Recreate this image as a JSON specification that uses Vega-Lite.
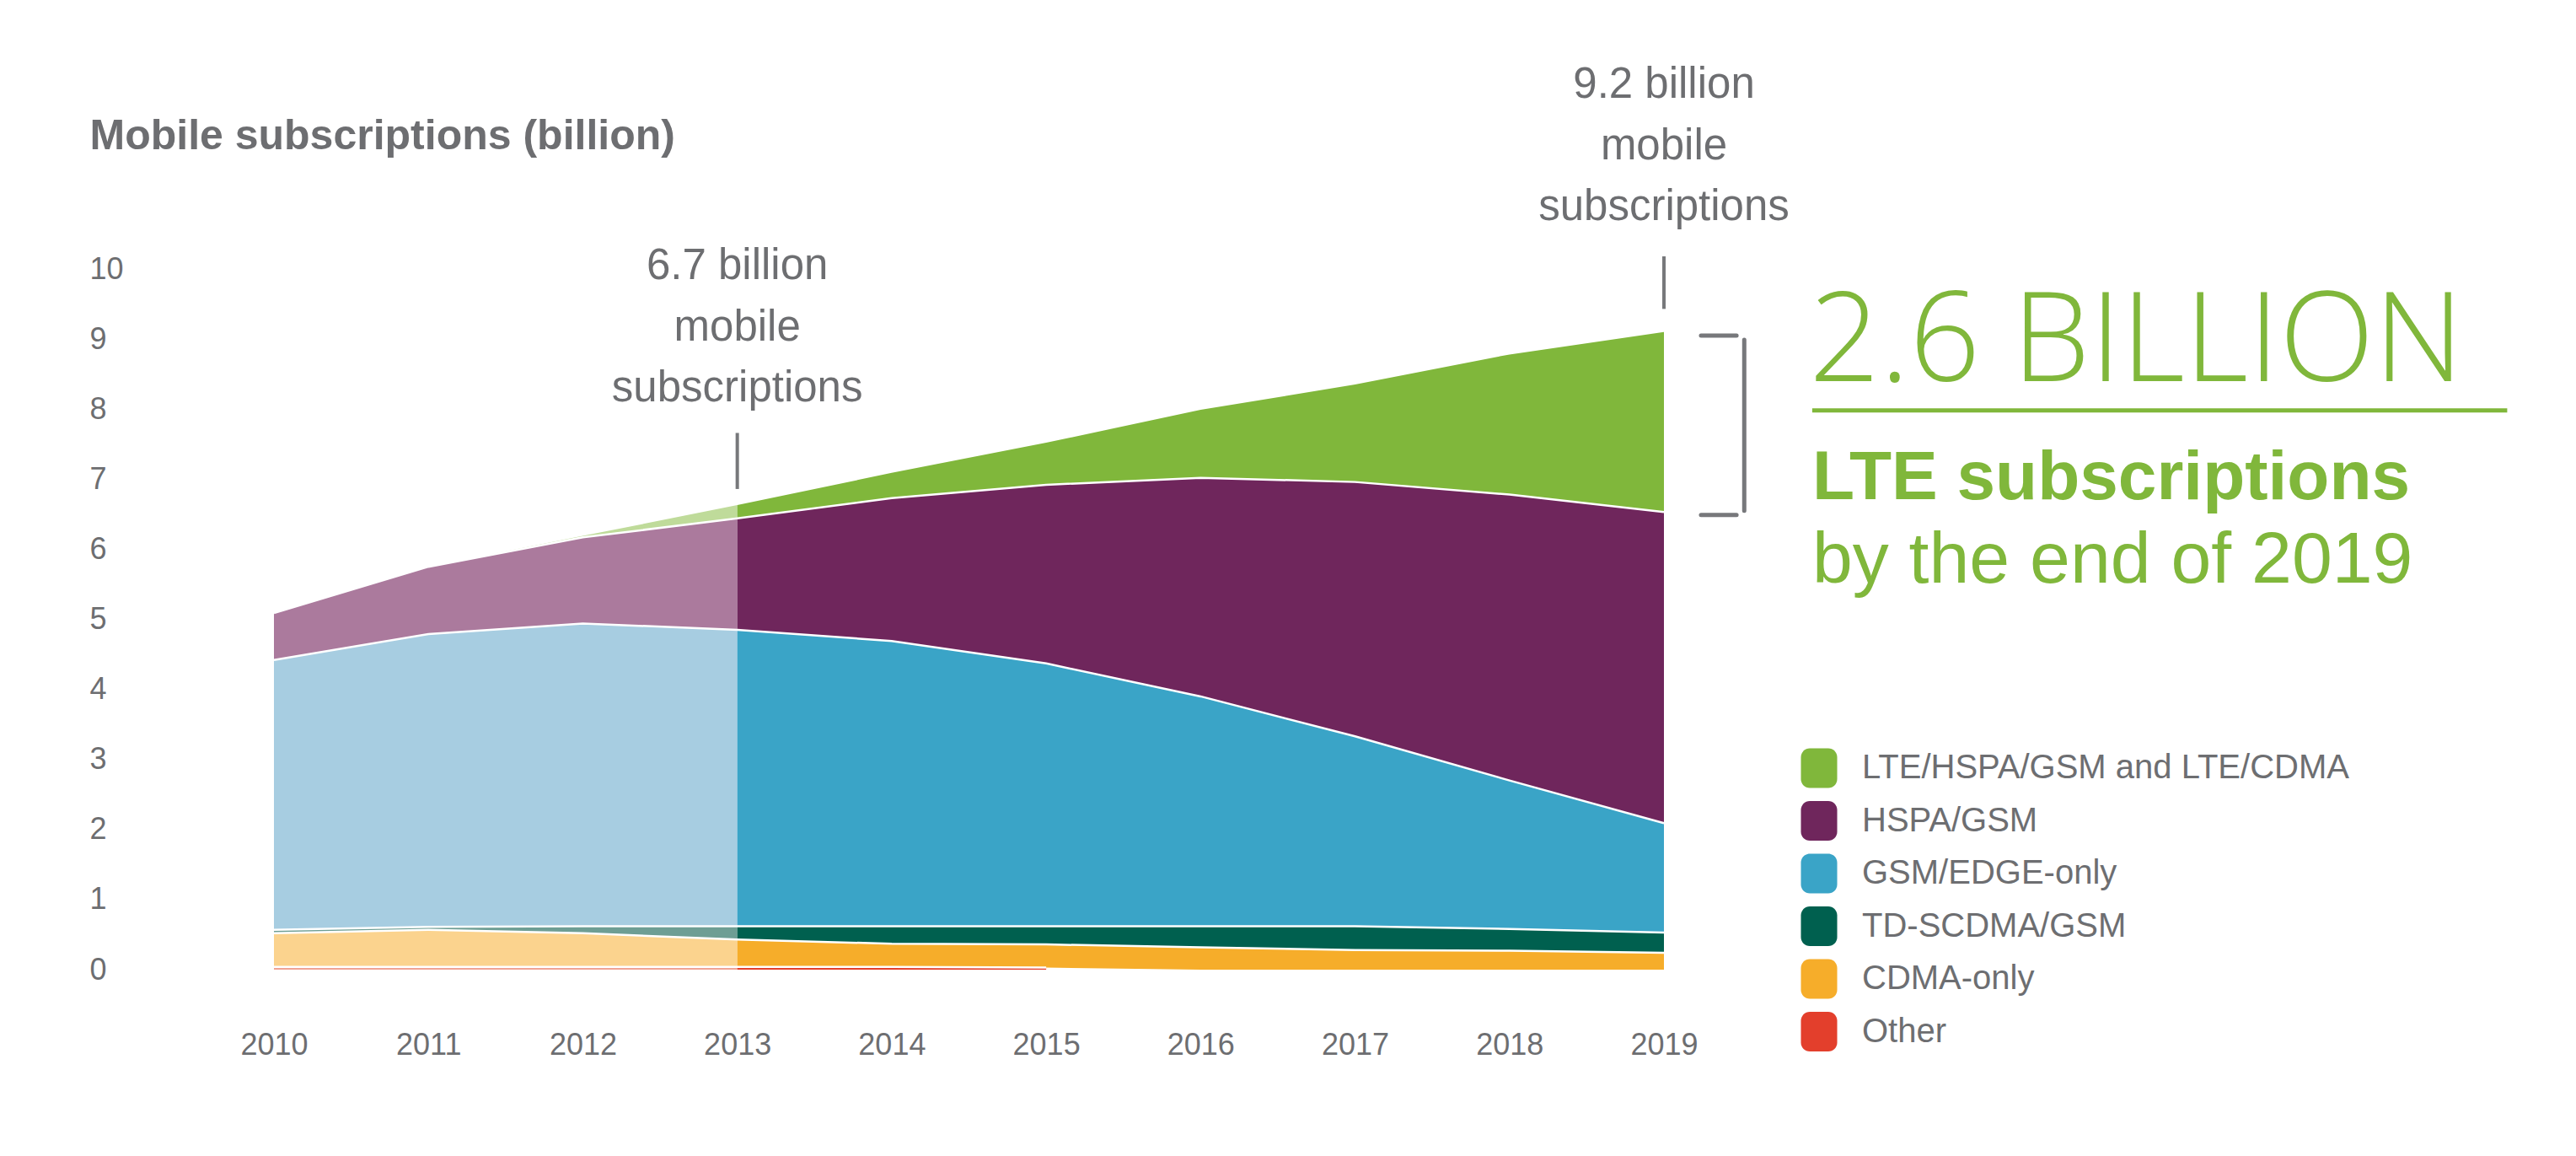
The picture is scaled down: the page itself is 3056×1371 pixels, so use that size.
{
  "$schema": "https://vega.github.io/schema/vega-lite/v6.json",
  "width": 1649,
  "height": 831,
  "autosize": {"type": "none"},
  "padding": {"left": 325, "top": 319, "right": 1082, "bottom": 221},
  "background": "white",
  "config": {"view": {"stroke": null}, "font": "Liberation Sans"},
  "layer": [
    {
      "data": {
        "values": [
          {"year": 2010, "tech": "Other", "value": 0.04},
          {"year": 2011, "tech": "Other", "value": 0.04},
          {"year": 2012, "tech": "Other", "value": 0.04},
          {"year": 2013, "tech": "Other", "value": 0.04},
          {"year": 2014, "tech": "Other", "value": 0.04},
          {"year": 2015, "tech": "Other", "value": 0.03},
          {"year": 2010, "tech": "CDMA-only", "value": 0.48},
          {"year": 2011, "tech": "CDMA-only", "value": 0.53},
          {"year": 2012, "tech": "CDMA-only", "value": 0.48},
          {"year": 2013, "tech": "CDMA-only", "value": 0.39},
          {"year": 2014, "tech": "CDMA-only", "value": 0.33},
          {"year": 2015, "tech": "CDMA-only", "value": 0.33},
          {"year": 2016, "tech": "CDMA-only", "value": 0.32},
          {"year": 2017, "tech": "CDMA-only", "value": 0.28},
          {"year": 2018, "tech": "CDMA-only", "value": 0.27},
          {"year": 2019, "tech": "CDMA-only", "value": 0.24},
          {"year": 2010, "tech": "TD-SCDMA/GSM", "value": 0.05},
          {"year": 2011, "tech": "TD-SCDMA/GSM", "value": 0.04},
          {"year": 2012, "tech": "TD-SCDMA/GSM", "value": 0.10},
          {"year": 2013, "tech": "TD-SCDMA/GSM", "value": 0.19},
          {"year": 2014, "tech": "TD-SCDMA/GSM", "value": 0.25},
          {"year": 2015, "tech": "TD-SCDMA/GSM", "value": 0.26},
          {"year": 2016, "tech": "TD-SCDMA/GSM", "value": 0.30},
          {"year": 2017, "tech": "TD-SCDMA/GSM", "value": 0.34},
          {"year": 2018, "tech": "TD-SCDMA/GSM", "value": 0.31},
          {"year": 2019, "tech": "TD-SCDMA/GSM", "value": 0.29},
          {"year": 2010, "tech": "GSM/EDGE-only", "value": 3.85},
          {"year": 2011, "tech": "GSM/EDGE-only", "value": 4.18},
          {"year": 2012, "tech": "GSM/EDGE-only", "value": 4.32},
          {"year": 2013, "tech": "GSM/EDGE-only", "value": 4.23},
          {"year": 2014, "tech": "GSM/EDGE-only", "value": 4.07},
          {"year": 2015, "tech": "GSM/EDGE-only", "value": 3.75},
          {"year": 2016, "tech": "GSM/EDGE-only", "value": 3.28},
          {"year": 2017, "tech": "GSM/EDGE-only", "value": 2.71},
          {"year": 2018, "tech": "GSM/EDGE-only", "value": 2.12},
          {"year": 2019, "tech": "GSM/EDGE-only", "value": 1.56},
          {"year": 2010, "tech": "HSPA/GSM", "value": 0.67},
          {"year": 2011, "tech": "HSPA/GSM", "value": 0.96},
          {"year": 2012, "tech": "HSPA/GSM", "value": 1.23},
          {"year": 2013, "tech": "HSPA/GSM", "value": 1.59},
          {"year": 2014, "tech": "HSPA/GSM", "value": 2.04},
          {"year": 2015, "tech": "HSPA/GSM", "value": 2.55},
          {"year": 2016, "tech": "HSPA/GSM", "value": 3.12},
          {"year": 2017, "tech": "HSPA/GSM", "value": 3.63},
          {"year": 2018, "tech": "HSPA/GSM", "value": 4.08},
          {"year": 2019, "tech": "HSPA/GSM", "value": 4.44},
          {"year": 2010, "tech": "LTE/HSPA/GSM and LTE/CDMA", "value": 0},
          {"year": 2011, "tech": "LTE/HSPA/GSM and LTE/CDMA", "value": 0},
          {"year": 2012, "tech": "LTE/HSPA/GSM and LTE/CDMA", "value": 0.02},
          {"year": 2013, "tech": "LTE/HSPA/GSM and LTE/CDMA", "value": 0.19},
          {"year": 2014, "tech": "LTE/HSPA/GSM and LTE/CDMA", "value": 0.36},
          {"year": 2015, "tech": "LTE/HSPA/GSM and LTE/CDMA", "value": 0.60},
          {"year": 2016, "tech": "LTE/HSPA/GSM and LTE/CDMA", "value": 0.97},
          {"year": 2017, "tech": "LTE/HSPA/GSM and LTE/CDMA", "value": 1.39},
          {"year": 2018, "tech": "LTE/HSPA/GSM and LTE/CDMA", "value": 2.00},
          {"year": 2019, "tech": "LTE/HSPA/GSM and LTE/CDMA", "value": 2.57}
        ]
      },
      "transform": [
        {"calculate": "indexof(['Other', 'CDMA-only', 'TD-SCDMA/GSM', 'GSM/EDGE-only', 'HSPA/GSM', 'LTE/HSPA/GSM and LTE/CDMA'], datum.tech)", "as": "k"},
        {"stack": "value", "groupby": ["year"], "sort": [{"field": "k", "order": "ascending"}], "as": ["v0", "v1"]}
      ],
      "encoding": {
        "x": {
          "field": "year",
          "type": "quantitative",
          "scale": {"domain": [2010, 2019], "nice": false, "zero": false},
          "axis": {
            "values": [2010, 2011, 2012, 2013, 2014, 2015, 2016, 2017, 2018, 2019],
            "format": "d",
            "title": null,
            "ticks": false,
            "domain": false,
            "grid": false,
            "labelFlush": false,
            "labelPadding": 72,
            "labelFontSize": 36,
            "labelColor": "#6d6e71"
          }
        },
        "y": {
          "field": "v1",
          "type": "quantitative",
          "scale": {"domain": [0, 10], "nice": false},
          "axis": {
            "values": [0, 1, 2, 3, 4, 5, 6, 7, 8, 9, 10],
            "format": "d",
            "ticks": false,
            "domain": false,
            "grid": false,
            "labelAlign": "left",
            "labelPadding": 219,
            "labelFontSize": 36,
            "labelColor": "#6d6e71",
            "title": "Mobile subscriptions (billion)",
            "titleAngle": 0,
            "titleAlign": "left",
            "titleBaseline": "middle",
            "titleX": -219,
            "titleY": -158,
            "titleFontSize": 50,
            "titleFontWeight": "bold",
            "titleColor": "#6d6e71"
          }
        }
      },
      "layer": [
        {
          "transform": [{"filter": "datum.year <= 2013"}],
          "mark": {"type": "area"},
          "encoding": {
            "y2": {"field": "v0"},
            "color": {
              "field": "tech",
              "type": "nominal",
              "scale": {
                "domain": ["LTE/HSPA/GSM and LTE/CDMA", "HSPA/GSM", "GSM/EDGE-only", "TD-SCDMA/GSM", "CDMA-only", "Other"],
                "range": ["#bfdb9a", "#ab7a9d", "#a7cde1", "#6e9e94", "#fbd38e", "#f0a394"]
              },
              "legend": null
            }
          }
        },
        {
          "transform": [{"filter": "datum.year >= 2013"}],
          "mark": {"type": "area"},
          "encoding": {
            "y2": {"field": "v0"},
            "color": {
              "field": "tech",
              "type": "nominal",
              "scale": {
                "domain": ["LTE/HSPA/GSM and LTE/CDMA", "HSPA/GSM", "GSM/EDGE-only", "TD-SCDMA/GSM", "CDMA-only", "Other"],
                "range": ["#80b73b", "#6f265c", "#3aa4c7", "#00604f", "#f6ad2a", "#e33f2c"]
              },
              "legend": {
                "orient": "none",
                "legendX": 1809.5,
                "legendY": 568.5,
                "title": null,
                "padding": 0,
                "symbolType": "M-0.915,-0.55 A0.45,0.45 0 0 1 -0.465,-1 L0.465,-1 A0.45,0.45 0 0 1 0.915,-0.55 L0.915,0.55 A0.45,0.45 0 0 1 0.465,1 L-0.465,1 A0.45,0.45 0 0 1 -0.915,0.55 Z",
                "symbolSize": 2209,
                "symbolStrokeWidth": 0,
                "symbolOpacity": 1,
                "labelFontSize": 40,
                "labelLimit": 0,
                "labelColor": "#6d6e71",
                "labelOffset": 27.5,
                "rowPadding": 15.5
              }
            }
          }
        },
        {
          "transform": [{"filter": "datum.tech !== 'LTE/HSPA/GSM and LTE/CDMA'"}],
          "mark": {"type": "line", "color": "white", "strokeWidth": 2.5},
          "encoding": {
            "detail": {"field": "tech", "type": "nominal"}
          }
        }
      ],
      "resolve": {"scale": {"color": "independent"}}
    },
    {
      "data": {"values": [{}]},
      "mark": {"type": "text", "text": ["6.7 billion", "mobile", "subscriptions"], "align": "center", "baseline": "alphabetic", "fontSize": 51, "lineHeight": 72.5, "color": "#6d6e71"},
      "encoding": {"x": {"datum": 2013}, "y": {"datum": 9.85}}
    },
    {
      "data": {"values": [{}]},
      "mark": {"type": "text", "text": ["9.2 billion", "mobile", "subscriptions"], "align": "center", "baseline": "alphabetic", "fontSize": 51, "lineHeight": 72.5, "color": "#6d6e71"},
      "encoding": {"x": {"datum": 2019}, "y": {"datum": 12.44}}
    },
    {
      "data": {"values": [{}]},
      "mark": {"type": "rule", "color": "#77787b", "strokeWidth": 4},
      "encoding": {"x": {"datum": 2013}, "y": {"datum": 7.66}, "y2": {"datum": 6.86}}
    },
    {
      "data": {"values": [{}]},
      "mark": {"type": "rule", "color": "#77787b", "strokeWidth": 4},
      "encoding": {"x": {"datum": 2019}, "y": {"datum": 10.18}, "y2": {"datum": 9.43}}
    },
    {
      "data": {"values": [{}]},
      "mark": {"type": "rule", "color": "#77787b", "strokeWidth": 5, "strokeCap": "round"},
      "encoding": {"x": {"datum": 2019.24}, "x2": {"datum": 2019.47}, "y": {"datum": 9.05}}
    },
    {
      "data": {"values": [{}]},
      "mark": {"type": "rule", "color": "#77787b", "strokeWidth": 5, "strokeCap": "round"},
      "encoding": {"x": {"datum": 2019.52}, "y": {"datum": 8.99}, "y2": {"datum": 6.55}}
    },
    {
      "data": {"values": [{}]},
      "mark": {"type": "rule", "color": "#77787b", "strokeWidth": 5, "strokeCap": "round"},
      "encoding": {"x": {"datum": 2019.24}, "x2": {"datum": 2019.47}, "y": {"datum": 6.49}}
    },
    {
      "data": {"values": [{}]},
      "mark": {"type": "text", "text": "2.6 BILLION", "align": "left", "baseline": "alphabetic", "font": "Open Sans", "fontWeight": 300, "fontSize": 147, "color": "#80b73b"},
      "encoding": {"x": {"datum": 2019.94}, "y": {"datum": 8.40}}
    },
    {
      "data": {"values": [{}]},
      "mark": {"type": "rule", "color": "#80b73b", "strokeWidth": 5},
      "encoding": {"x": {"datum": 2019.96}, "x2": {"datum": 2024.46}, "y": {"datum": 7.98}}
    },
    {
      "data": {"values": [{}]},
      "mark": {"type": "text", "text": "LTE subscriptions", "align": "left", "baseline": "alphabetic", "fontSize": 82, "fontWeight": "bold", "color": "#80b73b"},
      "encoding": {"x": {"datum": 2019.96}, "y": {"datum": 6.72}}
    },
    {
      "data": {"values": [{}]},
      "mark": {"type": "text", "text": "by the end of 2019", "align": "left", "baseline": "alphabetic", "fontSize": 86, "color": "#80b73b"},
      "encoding": {"x": {"datum": 2019.96}, "y": {"datum": 5.52}}
    }
  ]
}
